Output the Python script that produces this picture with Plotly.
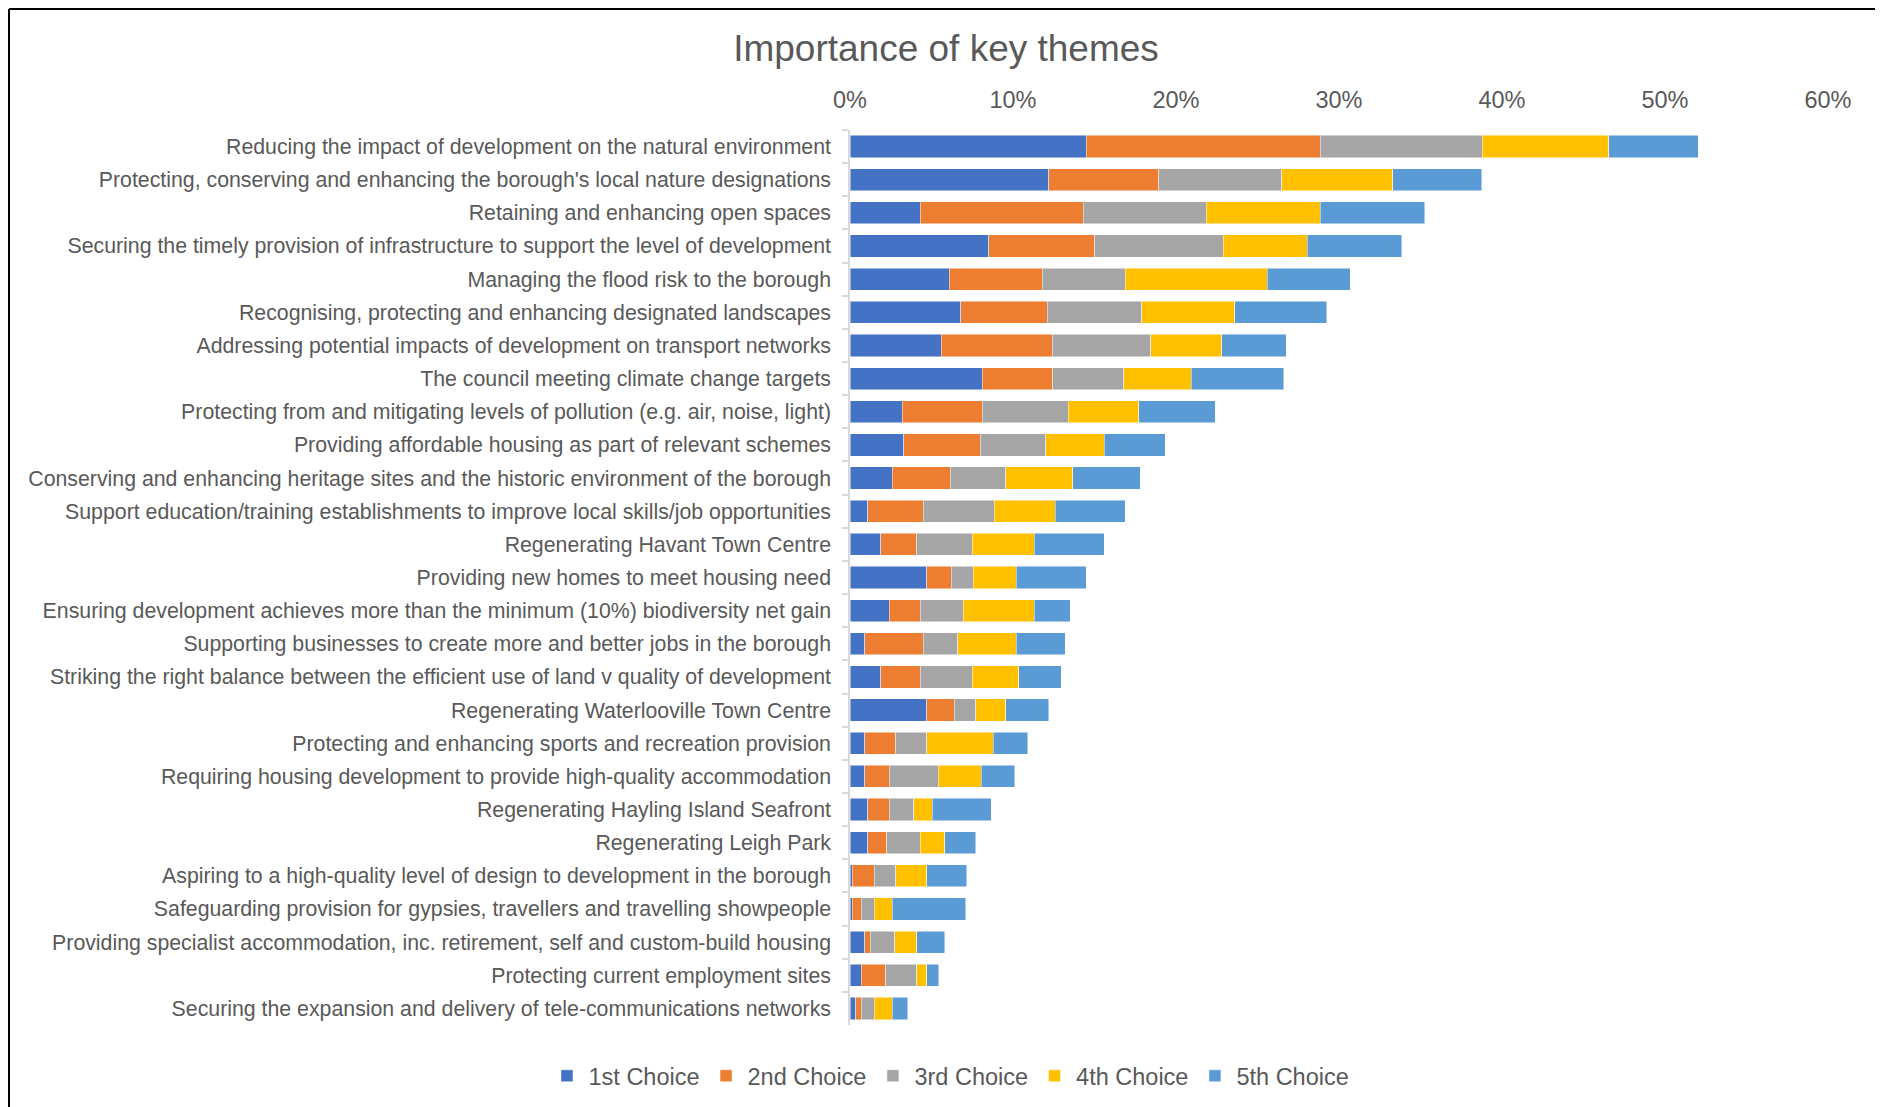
import plotly.graph_objects as go

categories = [
    "Reducing the impact of development on the natural environment",
    "Protecting, conserving and enhancing the borough's local nature designations",
    "Retaining and enhancing open spaces",
    "Securing the timely provision of infrastructure to support the level of development",
    "Managing the flood risk to the borough",
    "Recognising, protecting and enhancing designated landscapes",
    "Addressing potential impacts of development on transport networks",
    "The council meeting climate change targets",
    "Protecting from and mitigating levels of pollution (e.g. air, noise, light)",
    "Providing affordable housing as part of relevant schemes",
    "Conserving and enhancing heritage sites and the historic environment of the borough",
    "Support education/training establishments to improve local skills/job opportunities",
    "Regenerating Havant Town Centre",
    "Providing new homes to meet housing need",
    "Ensuring development achieves more than the minimum (10%) biodiversity net gain",
    "Supporting businesses to create more and better jobs in the borough",
    "Striking the right balance between the efficient use of land v quality of development",
    "Regenerating Waterlooville Town Centre",
    "Protecting and enhancing sports and recreation provision",
    "Requiring housing development to provide high-quality accommodation",
    "Regenerating Hayling Island Seafront",
    "Regenerating Leigh Park",
    "Aspiring to a high-quality level of design to development in the borough",
    "Safeguarding provision for gypsies, travellers and travelling showpeople",
    "Providing specialist accommodation, inc. retirement, self and custom-build housing",
    "Protecting current employment sites",
    "Securing the expansion and delivery of tele-communications networks",
]

choice1 = [14.5, 12.2, 4.3, 8.5, 6.1, 6.8, 5.6, 8.1, 3.2, 3.3, 2.6, 1.1, 1.9, 4.7, 2.4, 0.9, 1.9,
           4.7, 0.9, 0.9, 1.1, 1.1, 0.15, 0.15, 0.9, 0.7, 0.35]
choice2 = [14.35, 6.75, 10.0, 6.5, 5.7, 5.3, 6.8, 4.35, 4.9, 4.7, 3.55, 3.4, 2.2, 1.5, 1.9, 3.6, 2.4,
           1.7, 1.9, 1.5, 1.3, 1.15, 1.35, 0.55, 0.35, 1.5, 0.35]
choice3 = [9.95, 7.55, 7.55, 7.9, 5.1, 5.8, 6.05, 4.35, 5.3, 4.0, 3.4, 4.35, 3.4, 1.35, 2.65, 2.1, 3.2,
           1.3, 1.9, 3.0, 1.5, 2.05, 1.3, 0.8, 1.5, 1.9, 0.8]
choice4 = [7.75, 6.8, 7.0, 5.15, 8.7, 5.7, 4.35, 4.15, 4.3, 3.6, 4.1, 3.75, 3.8, 2.65, 4.35, 3.6, 2.85,
           1.85, 4.1, 2.65, 1.15, 1.5, 1.9, 1.1, 1.35, 0.6, 1.1]
choice5 = [5.5, 5.45, 6.4, 5.8, 5.1, 5.65, 3.95, 5.65, 4.7, 3.75, 4.15, 4.3, 4.3, 4.3, 2.2, 3.0, 2.6,
           2.65, 2.1, 2.05, 3.6, 1.9, 2.45, 4.5, 1.7, 0.75, 0.95]

series_names = ["1st Choice", "2nd Choice", "3rd Choice", "4th Choice", "5th Choice"]
series_values = [choice1, choice2, choice3, choice4, choice5]
colors = ["#4472C4", "#ED7D31", "#A5A5A5", "#FFC000", "#5B9BD5"]

tick_vals = [0, 10, 20, 30, 40, 50, 60]
tick_text = ["0%", "10%", "20%", "30%", "40%", "50%", "60%"]

# the page body has an 8px margin, so figure coordinates = screen coordinates - 8
W, H = 1875, 1099
L, R, T, B = 842, 55, 122, 82
PW, PH = W - L - R, H - T - B

def px_x(px):
    return (px - L) / PW

def px_y(py):
    return (H - B - py) / PH

fig = go.Figure()
for name, vals, col in zip(series_names, series_values, colors):
    fig.add_trace(go.Bar(
        y=categories, x=vals, name=name, orientation="h",
        marker=dict(color=col, line=dict(color="rgba(255,255,255,0.6)", width=0.8)),
    ))

font_family = "Liberation Sans, Arial, sans-serif"
grey = "#595959"

fig.update_layout(
    width=W, height=H,
    barmode="stack",
    bargap=0.33,
    paper_bgcolor="white",
    plot_bgcolor="white",
    margin=dict(l=L, r=R, t=T, b=B, autoexpand=False),
    font=dict(family=font_family, color=grey),
    title=dict(
        text="Importance of key themes",
        x=938 / W, xref="container", xanchor="center",
        y=1 - 40 / H, yref="container", yanchor="middle",
        font=dict(size=37, color=grey, family=font_family),
    ),
    xaxis=dict(
        side="top", range=[0, 60], tickvals=tick_vals, ticktext=tick_text,
        showgrid=False, zeroline=False, showline=False, ticks="",
        tickfont=dict(size=23.5, color=grey), ticklabelstandoff=16,
        fixedrange=True,
    ),
    yaxis=dict(
        categoryorder="array", categoryarray=categories, autorange="reversed",
        showgrid=False, zeroline=False, showline=True, linecolor="#D9D9D9", linewidth=1.5,
        ticks="outside", tickson="boundaries", ticklen=6, tickcolor="#D9D9D9", tickwidth=1.5,
        tickfont=dict(size=21.3, color=grey), ticklabelstandoff=13, automargin=False,
    ),
    legend=dict(
        orientation="h", x=942 / W, xref="container", xanchor="center",
        y=1 - 1068 / H, yref="container", yanchor="middle",
        font=dict(size=23.5, color=grey), traceorder="normal",
        itemwidth=33,
    ),
    showlegend=True,
)

border = dict(color="black", width=2)
fig.add_shape(type="line", xref="paper", yref="paper", x0=px_x(1), x1=px_x(1), y0=px_y(1), y1=px_y(1110), line=border)
fig.add_shape(type="line", xref="paper", yref="paper", x0=px_x(1), x1=px_x(1873), y0=px_y(1), y1=px_y(1), line=border)
fig.add_shape(type="line", xref="paper", yref="paper", x0=px_x(1873), x1=px_x(1873), y0=px_y(1), y1=px_y(1110), line=border)

fig.write_html("out.html")
